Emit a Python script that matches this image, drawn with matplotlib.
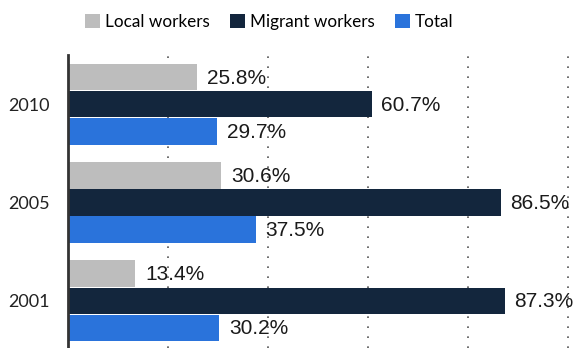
import matplotlib.pyplot as plt
import numpy as np

years = ["2010", "2005", "2001"]
local = [25.8, 30.6, 13.4]
migrant = [60.7, 86.5, 87.3]
total = [29.7, 37.5, 30.2]

series_names = ["Local workers", "Migrant workers", "Total"]
colors = ["#bdbdbd", "#13263d", "#2a73db"]

fig = plt.figure(figsize=(5.75, 3.48), dpi=100)
ax = fig.add_axes([68 / 575, 0.0, 1 - 68 / 575, (348 - 55) / 348])

pos = np.arange(len(years))
step = 0.2755
bar_h = 0.27
for k, (vals, c) in enumerate(zip([local, migrant, total], colors)):
    ypos = pos + (k - 1) * step
    ax.barh(ypos, vals, height=bar_h, color=c, zorder=3, label=series_names[k])
    for y, v in zip(ypos, vals):
        ax.text(v + 2, y + 0.01, f"{v}%", va="center", ha="left",
                fontsize=15, family="Liberation Sans", color="#1a1a1a", zorder=4)

ax.set_xlim(0, 101.4)
ax.set_ylim(2.48, -0.5)
ax.set_yticks(pos)
ax.set_yticklabels(years, family="Lato", fontsize=13, color="#222222")
ax.set_xticks([20, 40, 60, 80, 100])
ax.tick_params(axis="x", length=0, labelbottom=False)
ax.tick_params(axis="y", length=0, pad=13)
ax.grid(axis="x", color="#555555", linestyle=(0, (1, 5)), linewidth=1.2, zorder=0)

for side in ["top", "right", "bottom"]:
    ax.spines[side].set_visible(False)
ax.spines["left"].set_color("#333333")
ax.spines["left"].set_linewidth(2)
ax.spines["left"].set_zorder(5)

fig.legend(loc="upper center", bbox_to_anchor=(0.468, 1.005), ncol=3, frameon=False,
           handlelength=0.9, handleheight=0.9, handletextpad=0.25, columnspacing=1.2,
           prop={"family": "Lato", "size": 12.3})

fig.savefig("out.png", dpi=100)
